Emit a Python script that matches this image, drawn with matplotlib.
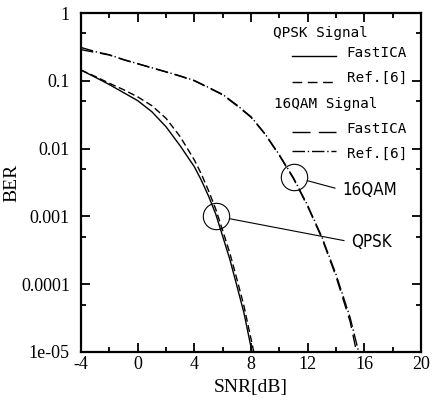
import matplotlib
matplotlib.use('Agg')
import matplotlib.pyplot as plt
import numpy as np
from matplotlib import font_manager
from matplotlib.ticker import FixedLocator, FixedFormatter, MultipleLocator

# QPSK curves
snr_qpsk_fastica = [-4, -3, -2, -1, 0, 1, 2, 3, 4, 4.5, 5, 5.5, 6, 6.5, 7, 7.5, 8.07]
ber_qpsk_fastica = [0.144, 0.113, 0.088, 0.067, 0.051, 0.035, 0.021, 0.011, 0.0054, 0.0034,
                    0.002, 0.0011, 5.1e-4, 2.35e-4, 9.5e-5, 3.8e-5, 1e-5]
snr_qpsk_ref = [-4, -3, -2, -1, 0, 1, 2, 3, 4, 4.5, 5, 5.5, 6, 6.5, 7, 7.5, 8.2]
ber_qpsk_ref = [0.144, 0.116, 0.092, 0.074, 0.058, 0.043, 0.028, 0.015, 0.0068, 0.0042,
                0.0024, 0.0013, 6.2e-4, 2.9e-4, 1.2e-4, 4.8e-5, 1e-5]

# 16QAM curves
snr_16qam_fastica = [-4, -3, -2, -1, 0, 1, 2, 3, 4, 5, 6, 7, 8, 9, 10, 11, 12, 13, 14, 15, 15.45]
ber_16qam_fastica = [0.288, 0.263, 0.24, 0.204, 0.178, 0.155, 0.135, 0.117, 0.1, 0.079, 0.062,
                     0.043, 0.029, 0.0162, 0.0079, 0.0036, 0.0014, 4.8e-4, 1.3e-4, 2.8e-5, 1e-5]
snr_16qam_ref = [-4, -3, -2, -1, 0, 1, 2, 3, 4, 5, 6, 7, 8, 9, 10, 11, 12, 13, 14, 15, 15.6]
ber_16qam_ref = [0.31, 0.27, 0.242, 0.206, 0.179, 0.156, 0.136, 0.118, 0.101, 0.08, 0.063,
                 0.044, 0.0295, 0.0165, 0.0081, 0.0037, 0.00145, 5.0e-4, 1.4e-4, 3.2e-5, 1e-5]

x_ticks = [-4, 0, 4, 8, 12, 16, 20]
y_ticks = [1e-5, 1e-4, 1e-3, 1e-2, 1e-1, 1]
y_ticklabels = ['1e-05', '0.0001', '0.001', '0.01', '0.1', '1']
y_minor = [5e-6 * 10 ** k for k in range(1, 6)]

plt.rcParams['axes.unicode_minus'] = False

serif = 'Liberation Serif'
mono = 'DejaVu Sans Mono'

# narrow sans for the curve labels: take what is installed
fonts = {(f.name, f.stretch) for f in font_manager.fontManager.ttflist}
names = {n for n, _ in fonts}
if 'Liberation Sans Narrow' in names:
    narrow = dict(fontfamily='Liberation Sans Narrow', fontsize=14.5)
elif ('DejaVu Sans', 'condensed') in fonts:
    narrow = dict(fontfamily='DejaVu Sans', fontstretch='condensed', fontsize=12.2)
else:
    narrow = dict(fontfamily='Roboto', fontsize=12.5)

fig = plt.figure(figsize=(4.32, 4.0), dpi=100)
ax = fig.add_axes([0.1875, 0.12, 0.787, 0.8475])

lw = 1.0
ax.plot(snr_qpsk_fastica, ber_qpsk_fastica, color='black', lw=lw, linestyle='-')
ax.plot(snr_qpsk_ref, ber_qpsk_ref, color='black', lw=lw, linestyle=(0, (5, 2.5)))
ax.plot(snr_16qam_fastica, ber_16qam_fastica, color='black', lw=lw, linestyle=(0, (9, 5)))
ax.plot(snr_16qam_ref, ber_16qam_ref, color='black', lw=lw, linestyle=(0, (9, 2, 1, 2)))

ax.set_yscale('log')
ax.set_xlim(-4, 20)
ax.set_ylim(1e-5, 1)
ax.xaxis.set_major_locator(FixedLocator(x_ticks))
ax.xaxis.set_minor_locator(MultipleLocator(2))
ax.yaxis.set_major_locator(FixedLocator(y_ticks))
ax.yaxis.set_major_formatter(FixedFormatter(y_ticklabels))
ax.yaxis.set_minor_locator(FixedLocator(y_minor))
ax.yaxis.set_minor_formatter(FixedFormatter([]))

for s in ax.spines.values():
    s.set_linewidth(1.6)
ax.tick_params(which='both', direction='in', top=True, right=True, width=1.3)
ax.tick_params(which='major', length=6.5)
ax.tick_params(which='minor', length=3.8)
ax.tick_params(axis='x', pad=3, labelsize=13)
ax.tick_params(axis='y', pad=8, labelsize=13)
for lab in ax.get_xticklabels() + ax.get_yticklabels():
    lab.set_fontfamily(serif)

ax.set_xlabel('SNR[dB]', fontfamily=serif, fontsize=14, labelpad=4)
ax.set_ylabel('BER', fontfamily=serif, fontsize=14, labelpad=0)

# legend drawn by hand, like the original figure
tr = ax.transAxes
fs = 10.3
ax.text(0.565, 0.929, 'QPSK Signal', transform=tr, fontfamily=mono, fontsize=fs, va='baseline')
ax.text(0.568, 0.720, '16QAM Signal', transform=tr, fontfamily=mono, fontsize=fs, va='baseline')
rows = [
    ('FastICA', 0.871, 0.873, '-'),
    ('Ref.[6]', 0.796, 0.796, (0, (7, 4))),
    ('FastICA', 0.646, 0.649, (0, (13, 6))),
    ('Ref.[6]', 0.572, 0.593, (0, (9, 2, 1, 2))),
]
for label, base, ly, ls in rows:
    ax.plot([0.621, 0.75], [ly, ly], transform=tr, color='black', lw=1.0, linestyle=ls)
    ax.text(0.782, base, label, transform=tr, fontfamily=mono, fontsize=fs, va='baseline')

# circled annotations
circles = [((11.04, 0.0038), '16QAM', (14.42, 0.00245)),
           ((5.53, 0.00101), 'QPSK', (15.06, 4.2e-4))]
for xy, name, xytext in circles:
    ax.plot(*xy, marker='o', markersize=19, mfc='none', mec='black', mew=0.8)
    ax.annotate(name, xy=xy, xytext=xytext, textcoords='data', ha='left', va='center',
                arrowprops=dict(arrowstyle='-', color='black', lw=0.8,
                                shrinkA=3, shrinkB=9.8, relpos=(0, 0.5)),
                **narrow)

fig.savefig('out.png', dpi=100)
